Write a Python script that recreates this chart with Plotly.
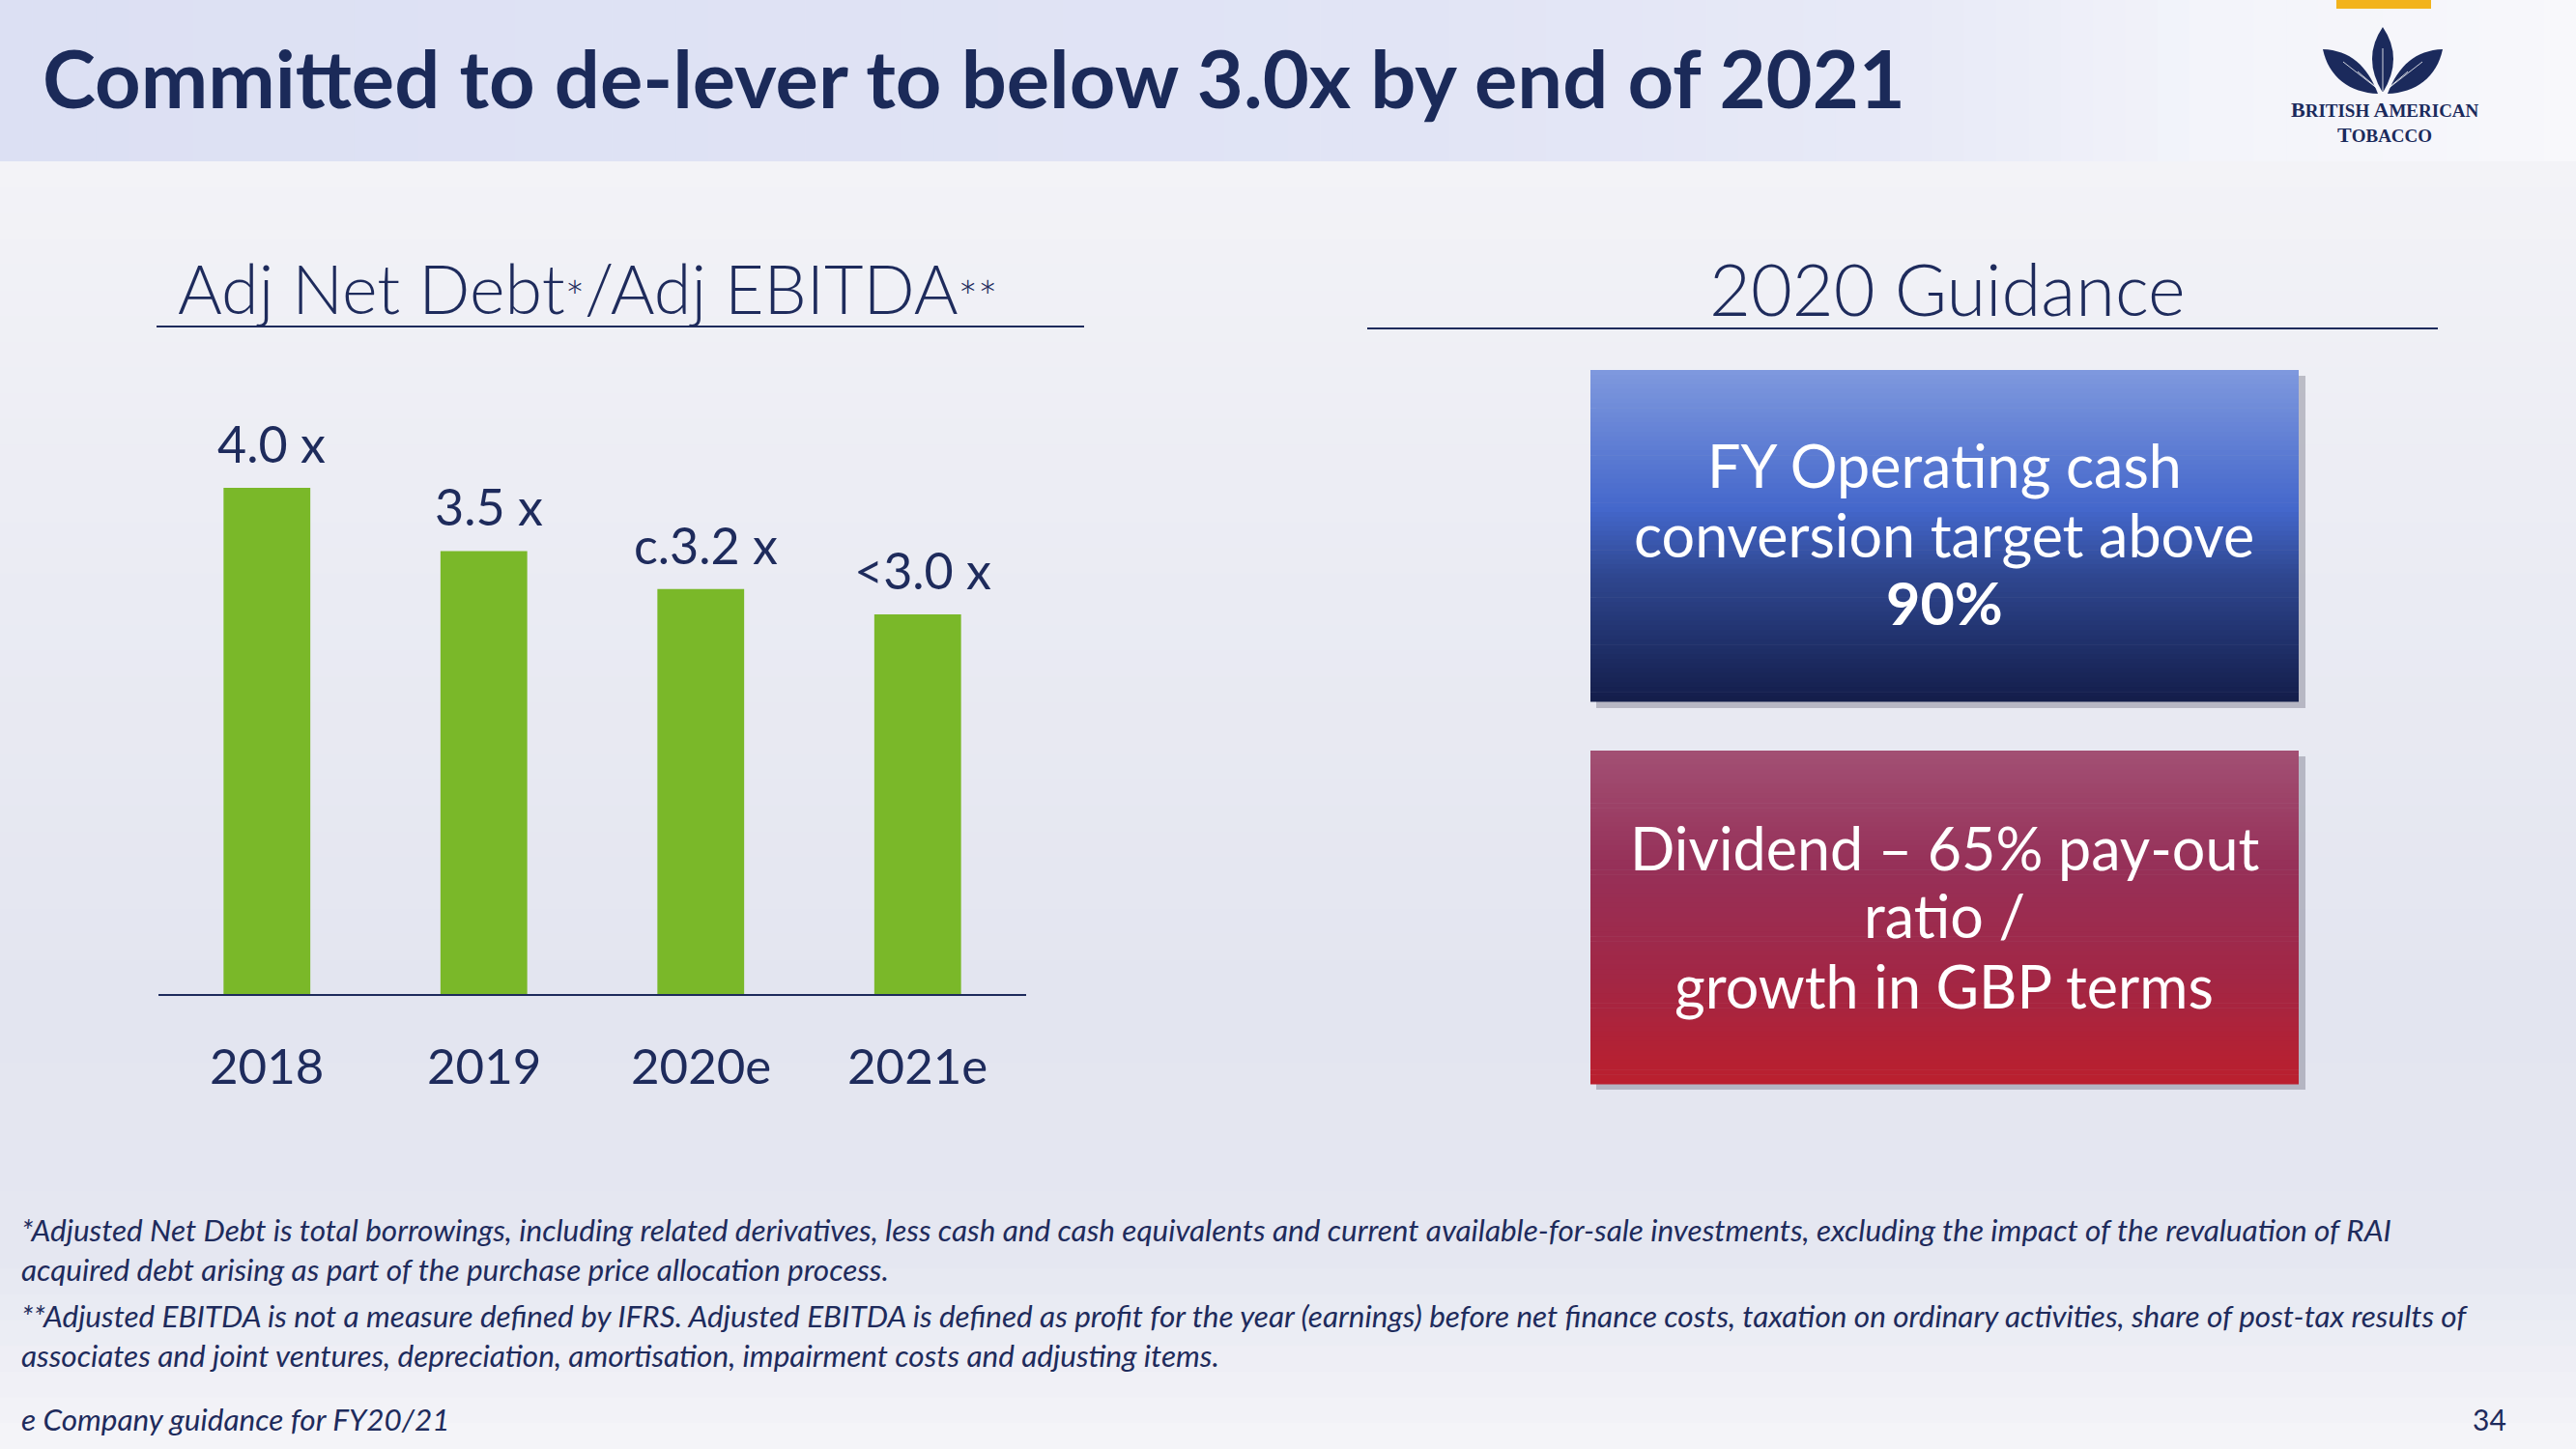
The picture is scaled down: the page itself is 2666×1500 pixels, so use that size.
import plotly.graph_objects as go

# ---------------- data ----------------
categories = ["2018", "2019", "2020e", "2021e"]
ratios = [4.0, 3.5, 3.2, 3.0]
ratio_labels = ["4.0 x", "3.5 x", "c.3.2 x", "<3.0 x"]

title_text = "Committed to de-lever to below 3.0x by end of 2021"
chart_header = "Adj Net Debt<span style='font-size:48px'>*</span>/Adj EBITDA<span style='font-size:48px'>**</span>"
guidance_header = "2020 Guidance"
box1_lines = ["FY Operating cash", "conversion target above", "<b>90%</b>"]
box2_lines = ["Dividend – 65% pay-out", "ratio /", "growth in GBP terms"]
footnotes = [
    "*Adjusted Net Debt is total borrowings, including related derivatives, less cash and cash equivalents and current available-for-sale investments, excluding the impact of the revaluation of RAI",
    "acquired debt arising as part of the purchase price allocation process.",
    "**Adjusted EBITDA is not a measure defined by IFRS. Adjusted EBITDA is defined as profit for the year (earnings) before net finance costs, taxation on ordinary activities, share of post-tax results of",
    "associates and joint ventures, depreciation, amortisation, impairment costs and adjusting items.",
    "e Company guidance for FY20/21",
]
page_number = "34"

# ---------------- helpers ----------------
W, H = 2666, 1500
NAVY = "#1E2B5C"


def X(p):
    return p / W


def Y(p):
    return 1 - p / H


def hex2rgb(h):
    h = h.lstrip("#")
    return tuple(int(h[i:i + 2], 16) for i in (0, 2, 4))


def interp(stops, t):
    for i in range(len(stops) - 1):
        t0, c0 = stops[i]
        t1, c1 = stops[i + 1]
        if t0 <= t <= t1:
            f = 0 if t1 == t0 else (t - t0) / (t1 - t0)
            a, b = hex2rgb(c0), hex2rgb(c1)
            return "rgb(%d,%d,%d)" % tuple(round(a[k] + (b[k] - a[k]) * f) for k in range(3))
    return stops[-1][1]


shapes = []


def rect(x0, y0, x1, y1, color, layer="below"):
    shapes.append(dict(type="rect", xref="paper", yref="paper", x0=X(x0), x1=X(x1),
                       y0=Y(y1), y1=Y(y0), fillcolor=color, line=dict(width=0), layer=layer))


def vgrad(x0, y0, x1, y1, stops, n=60, layer="below"):
    hgt = (y1 - y0) / n
    for i in range(n):
        t = (i + 0.5) / n
        rect(x0, y0 + i * hgt, x1, y0 + (i + 1) * hgt + 0.6, interp(stops, t), layer)


def hgrad(x0, y0, x1, y1, stops, n=60, layer="below"):
    wd = (x1 - x0) / n
    for i in range(n):
        t = (i + 0.5) / n
        rect(x0 + i * wd, y0, x0 + (i + 1) * wd + 0.6, y1, interp(stops, t), layer)


def line(x0, y0, x1, y1, color, width=2, layer="below"):
    shapes.append(dict(type="line", xref="paper", yref="paper", x0=X(x0), x1=X(x1),
                       y0=Y(y0), y1=Y(y1), line=dict(color=color, width=width), layer=layer))


def path(cmds, color, layer="above"):
    out = []
    for c in cmds:
        if isinstance(c, str):
            out.append(c)
        else:
            out.append("%.6f,%.6f" % (X(c[0]), Y(c[1])))
    shapes.append(dict(type="path", xref="paper", yref="paper", path=" ".join(out),
                       fillcolor=color, line=dict(width=0), layer=layer))


# ---------------- background ----------------
vgrad(0, 167, W, H, [(0, "#F3F3F7"), (0.25, "#ECEDF4"), (0.65, "#E3E5F0"),
                     (0.85, "#E5E7F1"), (1.0, "#F5F5F9")], n=50)
hgrad(0, 0, W, 167, [(0, "#DCE0F3"), (0.55, "#E1E4F5"), (0.75, "#E8EAF7"), (0.86, "#F3F4FA"), (1.0, "#F8F8FB")], n=80)

# logo
rect(2418, 0, 2516, 9, "#F2B31C")
path(["M", (2466, 96), "Q", (2444, 60), (2466, 28), "Q", (2488, 60), (2466, 96), "Z"], "#1B2A5C")
path(["M", (2461, 97), "C", (2450, 68), (2432, 52), (2404, 51), "C", (2410, 80), (2432, 96), (2461, 97), "Z"], "#1B2A5C")
path(["M", (2471, 97), "C", (2482, 68), (2500, 52), (2528, 51), "C", (2522, 80), (2500, 96), (2471, 97), "Z"], "#1B2A5C")
for (xa, ya) in [(2466, 50), (2440, 74), (2492, 74), (2425, 64), (2507, 64)]:
    line(2466, 96, xa, ya, "rgba(255,255,255,0.8)", 1, layer="above")

# header underlines
line(162, 338, 1122, 338, NAVY, 2)
line(1415, 340, 2523, 340, NAVY, 2)

# guidance boxes with shadows
rect(1652, 389, 2386, 733, "rgba(70,70,90,0.30)")
vgrad(1646, 383, 2379, 726, [(0, "#7F99DE"), (0.42, "#4467CB"), (0.62, "#2F4790"), (1.0, "#131D4A")], n=70)
rect(1652, 783, 2386, 1128, "rgba(70,70,90,0.30)")
vgrad(1646, 777, 2379, 1122, [(0, "#A25074"), (0.35, "#963058"), (0.7, "#A32644"), (1.0, "#BB1F2D")], n=70)

# ---------------- figure ----------------
fig = go.Figure()
fig.add_trace(go.Bar(x=categories, y=ratios, marker=dict(color="#7AB829", line=dict(width=0)),
                     hoverinfo="skip", showlegend=False))

annotations = []
# data labels (x given as category index on the category axis)
for i, (c, v, lab) in enumerate(zip(categories, ratios, ratio_labels)):
    annotations.append(dict(x=i, y=v, xref="x", yref="y", text=lab, showarrow=False,
                            yanchor="middle", yshift=46, xshift=5,
                            font=dict(family="Lato", size=52, color=NAVY)))
    annotations.append(dict(x=i, y=0, xref="x", yref="y", text=c, showarrow=False,
                            yanchor="middle", yshift=-73,
                            font=dict(family="Lato", size=51, color=NAVY)))


def txt(x, y, text, size, family="Lato", color=NAVY, xanchor="left", weight=None):
    f = dict(family=family, size=size, color=color)
    if weight is not None:
        f["weight"] = weight
    annotations.append(dict(x=X(x), y=Y(y), xref="paper", yref="paper", text=text, showarrow=False,
                            xanchor=xanchor, yanchor="middle", font=f))


txt(42, 80, "<b>" + title_text + "</b>", 83, color="#1B2A59")
txt(182, 298, chart_header, 70, weight=300)
txt(2015, 298, guidance_header, 74, xanchor="center", weight=300)

for yy, s in zip([481, 553, 624], box1_lines):
    txt(2012, yy, s, 61, color="white", xanchor="center")
for yy, s in zip([877, 947, 1020], box2_lines):
    txt(2012, yy, s, 61, color="white", xanchor="center")

for yy, s in zip([1273, 1314, 1362, 1403, 1469], footnotes):
    txt(20, yy, "<i>" + s + "</i>", 31.5)
txt(2576, 1469, page_number, 30, xanchor="center")

# logo text
txt(2468, 114, "<b>B<span style='font-size:19px'>RITISH</span> A<span style='font-size:19px'>MERICAN</span></b>",
    22, family="Liberation Serif", color="#1B2A5C", xanchor="center")
txt(2468, 139, "<b>T<span style='font-size:19px'>OBACCO</span></b>",
    22, family="Liberation Serif", color="#1B2A5C", xanchor="center")

baseline = 1029
per_unit = 131
ymax = 4.5
fig.update_layout(
    width=W, height=H,
    margin=dict(l=0, r=0, t=0, b=0),
    paper_bgcolor="#ECEDF4",
    plot_bgcolor="rgba(0,0,0,0)",
    bargap=0.6,
    showlegend=False,
    hovermode=False,
    shapes=shapes,
    annotations=annotations,
    xaxis=dict(type="category", domain=[X(164), X(1062)], range=[-0.5, 3.5], showline=True,
               linecolor=NAVY, linewidth=2, showticklabels=False, ticks="", showgrid=False,
               zeroline=False, fixedrange=True),
    yaxis=dict(domain=[Y(baseline), Y(baseline - ymax * per_unit)], range=[0, ymax], visible=False,
               showgrid=False, zeroline=False, fixedrange=True),
)

fig.write_html("out.html")
